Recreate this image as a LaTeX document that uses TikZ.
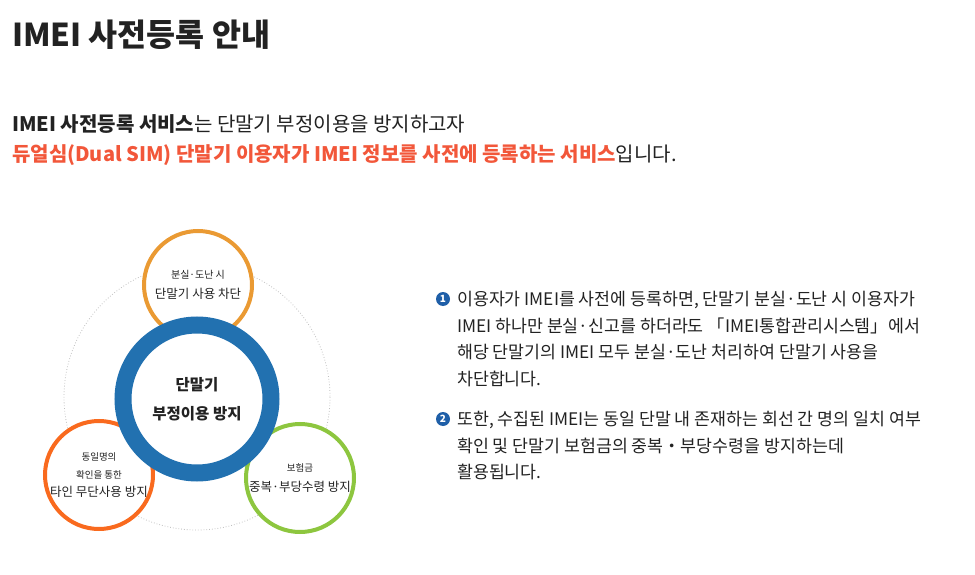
\documentclass[tikz,border=0pt]{standalone}
\usepackage{fontspec}
\setmainfont{Noto Sans CJK KR}
\definecolor{orng}{HTML}{EA9A33}
\definecolor{redo}{HTML}{F96A1E}
\definecolor{grn}{HTML}{8DC63F}
\definecolor{blu}{HTML}{2271B0}
\definecolor{redt}{HTML}{F2573A}
\definecolor{txt}{HTML}{222222}
\definecolor{bul}{HTML}{1F5FA8}
\begin{document}
\begin{tikzpicture}[x=1pt,y=-1pt,
  ring/.style={circle,line width=4pt,fill=white,minimum size=108pt,inner sep=0pt,align=center,text=txt},
  line/.style={anchor=base west,inner sep=0pt,text=txt,font=\fontsize{17.3}{17}\selectfont},
  bnum/.style={circle,fill=bul,text=white,inner sep=0pt,minimum size=14pt,font=\fontsize{10}{9}\bfseries\selectfont}]
\useasboundingbox (0,0) rectangle (975,575);
\node[anchor=base west,inner sep=0pt,text=txt,font=\fontsize{31.5}{31}\bfseries\selectfont] (title) at (12,47) {IMEI 사전등록 안내};
\node[anchor=base west,inner sep=0pt,text=txt,font=\fontsize{20}{19}\selectfont] (l1) at (12,132) {\textbf{IMEI 사전등록 서비스}는 단말기 부정이용을 방지하고자};
\node[anchor=base west,inner sep=0pt,text=txt,font=\fontsize{20}{19}\selectfont] (l2) at (12,162) {\textcolor{redt}{\textbf{듀얼심(Dual SIM) 단말기 이용자가 IMEI 정보를 사전에 등록하는 서비스}}입니다.};
% diagram
\draw[gray!50,dotted,line width=0.8pt] (197,397) circle (133);
\node[ring,draw=orng] (top) at (198,285) {\fontsize{10}{12}\selectfont 분실·도난 시\\[8pt]\fontsize{12.5}{14}\selectfont 단말기 사용 차단};
\node[ring,draw=redo] (left) at (99,475) {\fontsize{9.5}{11}\selectfont 동일명의\\[6pt]\fontsize{9.5}{11}\selectfont 확인을 통한\\[6pt]\fontsize{12.5}{14}\selectfont 타인 무단사용 방지};
\node[ring,draw=grn] (right) at (300,478) {\fontsize{9.5}{11}\selectfont 보험금\\[8pt]\fontsize{12.5}{14}\selectfont 중복·부당수령 방지};
\node[circle,draw=blu,line width=17pt,fill=white,minimum size=148pt,inner sep=0pt,align=center,text=txt,font=\fontsize{15.5}{29}\bfseries\selectfont] (mid) at (197,399) {단말기\\부정이용 방지};
% bullets
\node[bnum] (b1) at (443,299) {1};
\node[line] (t1) at (457,305) {이용자가 IMEI를 사전에 등록하면, 단말기 분실·도난 시 이용자가};
\node[line] (t2) at (457,332) {IMEI 하나만 분실·신고를 하더라도 「IMEI통합관리시스템」에서};
\node[line] (t3) at (457,358) {해당 단말기의 IMEI 모두 분실·도난 처리하여 단말기 사용을};
\node[line] (t4) at (457,385) {차단합니다.};
\node[bnum] (b2) at (443,419) {2};
\node[line] (t5) at (457,425) {또한, 수집된 IMEI는 동일 단말 내 존재하는 회선 간 명의 일치 여부};
\node[line] (t6) at (457,452) {확인 및 단말기 보험금의 중복・부당수령을 방지하는데};
\node[line] (t7) at (457,478) {활용됩니다.};
\end{tikzpicture}
\end{document}
